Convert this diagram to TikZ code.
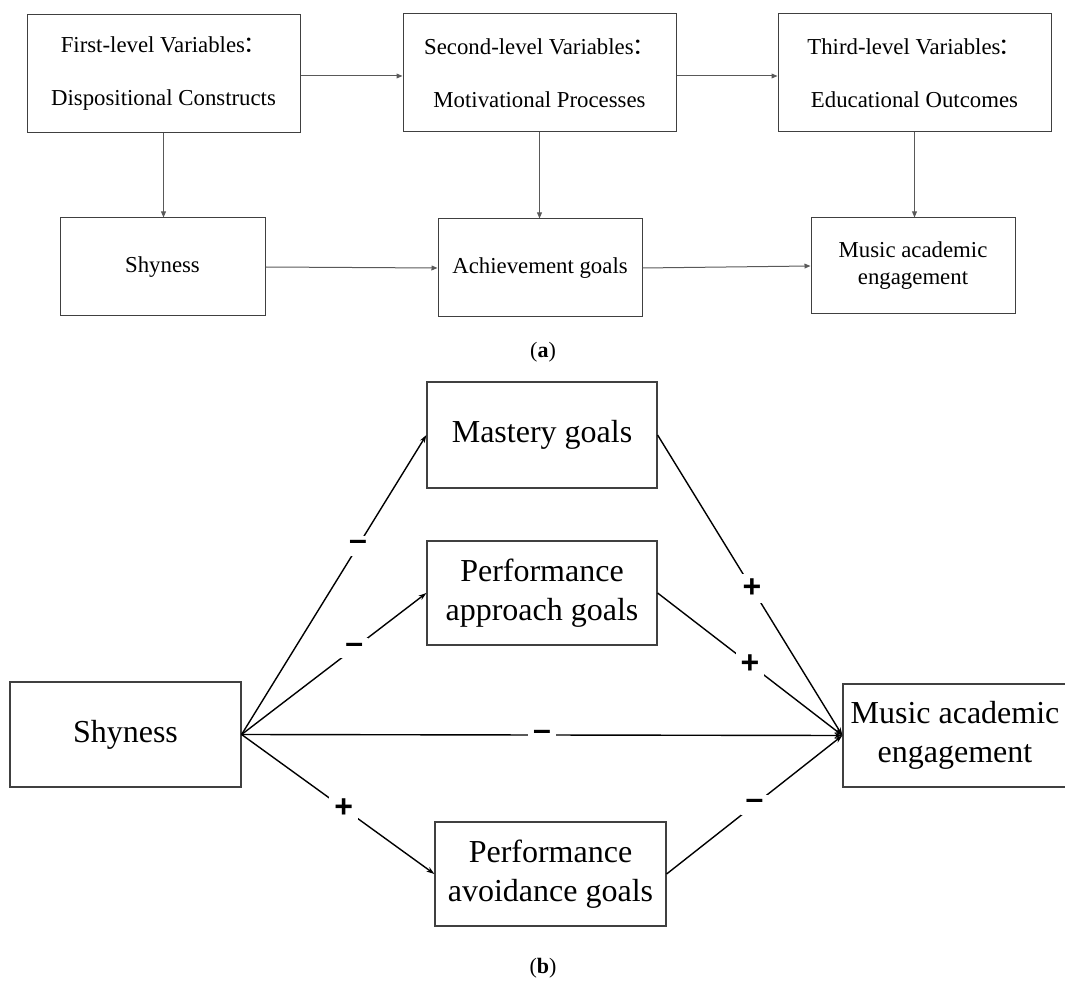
\documentclass[tikz,border=0pt]{standalone}
\usepackage{fontspec}
\setmainfont{Liberation Serif}
\newfontfamily\signfont{Liberation Sans}
\newfontfamily\cjk{Noto Sans CJK SC}
\usetikzlibrary{arrows.meta}

\newcommand{\fwcolon}{\kern-0.07em{\cjk ：}}

\tikzset{
  boxa/.style 2 args={draw=black!75, line width=0.5pt, minimum width=#1, minimum height=#2,
    inner sep=0pt, align=center, font=\fontsize{11.4}{13.5}\selectfont},
  lvl/.style={font=\fontsize{11.4}{26.5}\selectfont},
  boxb/.style 2 args={draw=black!75, line width=0.6pt, minimum width=#1, minimum height=#2,
    inner sep=0pt, align=center, font=\fontsize{16}{19.5}\selectfont},
  arra/.style={draw=black!65, line width=0.5pt, -{Triangle[length=3pt,width=2.4pt]}},
  arrb/.style={line width=0.7pt, -{Stealth[length=4pt,width=2.6pt]}},
  sign/.style={fill=white, inner sep=2.5pt, font=\signfont\bfseries\fontsize{16}{16}\selectfont},
}

\begin{document}
\begin{tikzpicture}[x=0.5pt,y=-0.5pt]
\useasboundingbox (0,0) rectangle (1065,983);
%(a) levels
\node[boxa={136.5pt}{59pt},lvl] (F1) at (163.5,74) {First-level Variables\fwcolon\\Dispositional Constructs};
\node[boxa={136.5pt}{59pt},lvl] (S2) at (539.5,73) {Second-level Variables\fwcolon\\Motivational Processes};
\node[boxa={136.5pt}{59pt},lvl] (T3) at (914.5,73) {Third-level Variables\fwcolon\\Educational Outcomes};
%(a) variables
\node[boxa={102.5pt}{49pt}] (ShyA) at (162.5,267) {Shyness};
\node[boxa={102pt}{49pt}] (AchA) at (540,268) {Achievement goals};
\node[boxa={102pt}{48pt}] (MusA) at (913,266) {Music academic\\engagement};
\draw[arra] ([yshift=-1pt]F1.east) -- ([yshift=-1pt]F1.east -| S2.west);
\draw[arra] ([yshift=-1.5pt]S2.east) -- ([yshift=-1.5pt]S2.east -| T3.west);
\draw[arra] (F1.south) -- (F1.south |- ShyA.north);
\draw[arra] (S2.south) -- (S2.south |- AchA.north);
\draw[arra] (T3.south) -- (T3.south |- MusA.north);
\draw[arra] (ShyA.east) -- (AchA.west);
\draw[arra] (AchA.east) -- (MusA.west);
\node[font=\fontsize{11}{13}\selectfont] (capA) at (543,352) {(\textbf{a})};
%(b) model
\node[boxb={115pt}{53pt}] (MG) at (542,435) {Mastery goals};
\node[boxb={115pt}{52pt}] (PAp) at (542,593) {Performance\\approach goals};
\node[boxb={115.5pt}{52.5pt}] (ShyB) at (125.5,734.5) {Shyness};
\node[boxb={115.5pt}{52pt}] (PAv) at (550.5,874) {Performance\\avoidance goals};
\node[boxb={112pt}{51.5pt}] (MusB) at (955,735.5) {Music academic\\engagement};
\draw[arrb] (ShyB.east) -- node[sign,pos=0.63]{–} (MG.west);
\draw[arrb] (ShyB.east) -- node[sign,pos=0.61]{–} (PAp.west);
\draw[arrb] (ShyB.east) -- node[sign,pos=0.5]{–} (MusB.west);
\draw[arrb] (ShyB.east) -- node[sign,pos=0.53]{+} (PAv.west);
\draw[arrb] (MG.east) -- node[sign,pos=0.51]{+} (MusB.west);
\draw[arrb] (PAp.east) -- node[sign]{+} (MusB.west);
\draw[arrb] (PAv.east) -- node[sign]{–} (MusB.west);
\node[font=\fontsize{11}{13}\selectfont] (capB) at (543,968) {(\textbf{b})};
\end{tikzpicture}
\end{document}
